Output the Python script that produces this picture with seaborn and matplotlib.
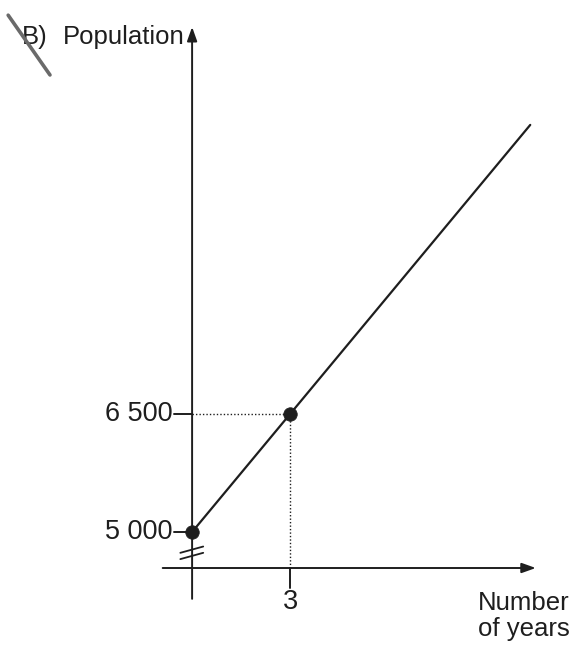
import matplotlib
matplotlib.use("Agg")
import matplotlib.pyplot as plt
import seaborn as sns
import pandas as pd

# Known points: starting population and the value after 3 years
years = [0, 3]
population = [5000, 6500]

# The straight line of growth, drawn until it leaves the sketch
line_years = [0, 10.35]
line_population = [5000, 10175]

# Labelled ticks
x_ticks = [3]
x_tick_labels = ["3"]
y_ticks = [5000, 6500]
y_tick_labels = ["5 000", "6 500"]

x_title = "Number\nof years"
y_title = "Population"
part_label = "B)"

sns.set_theme(style="white")
plt.rcParams["font.family"] = ["Liberation Sans", "DejaVu Sans"]

INK = "#1e1e1e"
FS = 18.5

fig = plt.figure(figsize=(5.75, 6.48), dpi=100)
ax = fig.add_axes([0, 0, 1, 1])
ax.set_xlim(-5.88, 11.72)
ax.set_ylim(3525, 11763)
ax.axis("off")

# where the drawn (broken) horizontal axis sits
X_AXIS_Y = 4542

# axes with arrow heads
arrow = dict(arrowstyle="-|>,head_length=0.7,head_width=0.25", color=INK, lw=1.4,
             shrinkA=0, shrinkB=0)
ax.annotate("", xy=(0, 11420), xytext=(0, 4150), arrowprops=arrow)
ax.annotate("", xy=(10.52, X_AXIS_Y), xytext=(-0.9, X_AXIS_Y), arrowprops=arrow)

# axis break marks on the vertical axis
for off in (0, 80):
    ax.plot([-0.36, 0.34], [4735 - off, 4815 - off], color=INK, lw=1.3)

# growth line and the two marked points
df_line = pd.DataFrame({"year": line_years, "pop": line_population})
sns.lineplot(data=df_line, x="year", y="pop", color=INK, lw=1.6, ax=ax, zorder=3)
df_pts = pd.DataFrame({"year": years, "pop": population})
sns.scatterplot(data=df_pts, x="year", y="pop", s=95, color=INK, edgecolor=INK,
                linewidth=0.5, zorder=5, ax=ax, legend=False)

# dotted guides from the point at 3 years
gx, gy = years[1], population[1]
ax.plot([0, gx], [gy, gy], color=INK, lw=1.0, ls=(0, (1, 1.5)))
ax.plot([gx, gx], [X_AXIS_Y, gy], color=INK, lw=1.0, ls=(0, (1, 1.5)))

# y ticks with labels
for v, lab in zip(y_ticks, y_tick_labels):
    ax.plot([-0.55, 0], [v, v], color=INK, lw=1.4)
    ax.text(-0.6, v, lab, ha="right", va="center", fontsize=FS + 1, color=INK)

# x ticks with labels
for v, lab in zip(x_ticks, x_tick_labels):
    ax.plot([v, v], [X_AXIS_Y, 4290], color=INK, lw=1.4)
    ax.text(v, 4105, lab, ha="center", va="center", fontsize=FS + 1, color=INK)

# axis titles
ax.text(-0.22, 11290, y_title, ha="right", va="center", fontsize=FS, color=INK)
ax.text(10.15, 3935, x_title, ha="center", va="center", fontsize=FS, color=INK,
        linespacing=1.1)

# part label, struck through with a pencil stroke
ax.text(-5.2, 11290, part_label, ha="left", va="center", fontsize=FS, color=INK)
ax.plot([-5.63, -4.35], [11570, 10810], color="#6a6a6a", lw=2.6,
        solid_capstyle="round", zorder=6)

fig.savefig("out.png", dpi=100)
